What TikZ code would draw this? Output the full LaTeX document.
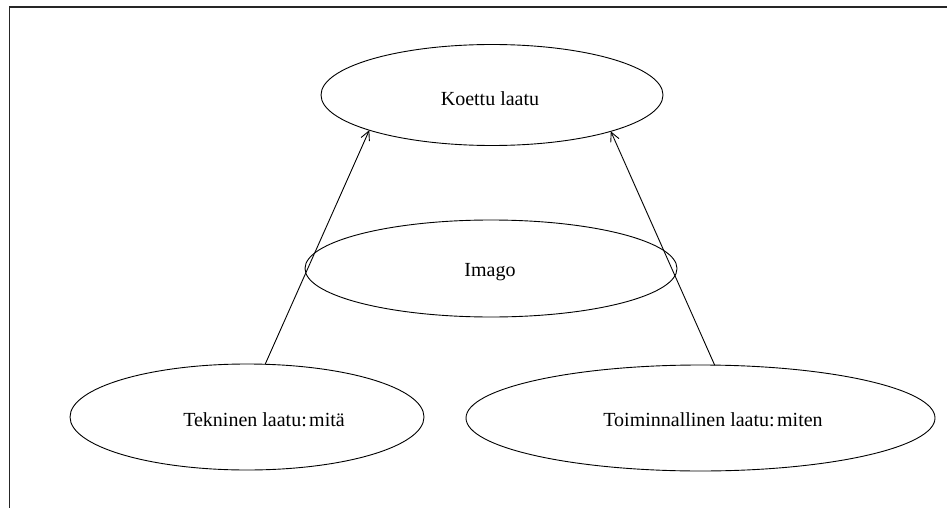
\documentclass[tikz,border=0pt]{standalone}
\usepackage{fontspec}
\setmainfont{Liberation Serif}
\usetikzlibrary{arrows.meta,shapes.geometric}
\begin{document}
\begin{tikzpicture}[x=1pt,y=-1pt,
  oval/.style={draw,ellipse,line width=0.9pt,inner sep=0pt,outer sep=0pt},
  lbl/.style={inner sep=0pt,font=\fontsize{20}{24}\selectfont},
  link/.style={line width=0.9pt,-{Straight Barb[length=9pt,width=9pt]}},
  frame/.style={line width=1.2pt,draw=black!85}]
\useasboundingbox (0,0) rectangle (947,508);
% open frame: top and left edges only
\coordinate (fbl) at (9.5,508);
\coordinate (ftl) at (9.5,7);
\coordinate (ftr) at (947,7);
\draw[frame] (fbl) -- (ftl) -- (ftr);
% ellipses
\node[oval,minimum width=342,minimum height=101] (koe) at (492,95) {};
\node[oval,minimum width=372,minimum height=97] (ima) at (491,268.5) {};
\node[oval,minimum width=354,minimum height=106] (tek) at (247,417) {};
\node[oval,minimum width=469,minimum height=106] (toi) at (700.5,418) {};
% labels
\node[lbl] (koet) at (490,99) {Koettu laatu};
\node[lbl] (imat) at (490,272) {Imago};
\node[lbl] (tekt) at (264,420) {Tekninen laatu:\hspace{0.12em}mitä};
\node[lbl] (toit) at (713,420) {Toiminnallinen laatu:\hspace{0.12em}miten};
% arrows
\draw[link] (tek.71) -- (koe.196);
\draw[link] (toi.75) -- (koe.343.5);
\end{tikzpicture}
\end{document}
